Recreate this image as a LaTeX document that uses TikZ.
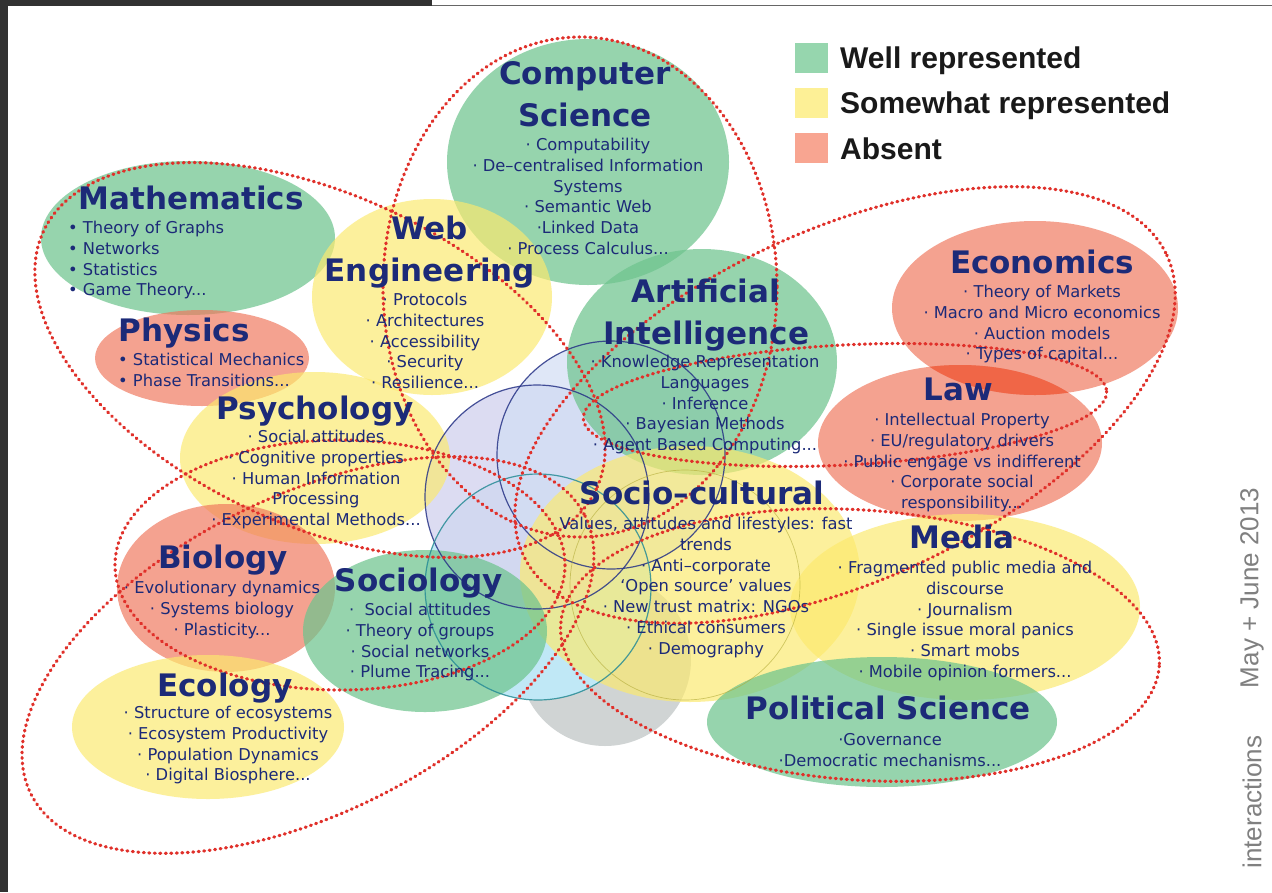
\documentclass[tikz,border=0pt]{standalone}
\usepackage{fontspec}
\setmainfont{DejaVu Sans}
\newfontfamily\legfont{Liberation Sans}
\definecolor{navy}{RGB}{28,42,120}
\definecolor{gbase}{RGB}{110,196,142}
\definecolor{ybase}{RGB}{252,234,110}
\definecolor{rbase}{RGB}{240,118,92}
\definecolor{lawecon}{RGB}{240,95,62}
\definecolor{dotred}{RGB}{224,48,42}
\definecolor{lgreen}{RGB}{150,214,174}
\definecolor{lyellow}{RGB}{253,240,150}
\definecolor{lred}{RGB}{248,165,145}
\definecolor{circA}{RGB}{214,214,240}
\definecolor{circB}{RGB}{210,222,244}
\definecolor{circC}{RGB}{192,232,246}
\definecolor{circgrey}{RGB}{208,212,212}
\definecolor{circline}{RGB}{40,52,135}
\definecolor{tealline}{RGB}{40,140,150}
\definecolor{frame}{RGB}{50,50,50}
\begin{document}
\begin{tikzpicture}[x=1pt,y=-1pt,
  title/.style={font=\fontsize{31}{42}\selectfont\bfseries, text=navy, inner sep=0pt, align=center, anchor=north},
  items/.style={font=\fontsize{16.3}{20.8}\selectfont, text=navy, inner sep=0pt, align=center, anchor=north},
  gblob/.style={fill=gbase, fill opacity=0.72},
  yblob/.style={fill=ybase, fill opacity=0.68},
  rblob/.style={fill=rbase, fill opacity=0.68},
  petal/.style={draw=dotred, line width=3.2pt, dash pattern=on 0.9pt off 4.6pt, line cap=round},
  legtext/.style={font=\legfont\fontsize{30}{30}\selectfont\bfseries, text=black!90, anchor=base west, inner sep=0pt},
  sidetext/.style={font=\legfont\fontsize{26}{26}\selectfont, text=black!50, rotate=90, inner sep=0pt}
]
\useasboundingbox (0,0) rectangle (1272,892);
\fill[white] (0,0) rectangle (1272,892);
% frame
\fill[frame] (0,0) rectangle (432,6);
\fill[frame] (0,0) rectangle (8,892);
\draw[black!60, line width=1pt] (432,5) -- (1272,5);

% central circles (fills)
\fill[circgrey] (605,660) circle [radius=86];
\fill[circC] (538,587) circle [radius=113];
\fill[circA, fill opacity=0.85] (537,497) circle [radius=112];
\fill[circB, fill opacity=0.7] (611,455) circle [radius=114];

% discipline blobs
\fill[gblob] (588,162) ellipse [x radius=141, y radius=123];
\fill[gblob] (188,238) ellipse [x radius=147, y radius=77];
\fill[yblob] (432,297) ellipse [x radius=120, y radius=98];
\fill[rblob] (202,358) ellipse [x radius=107, y radius=48];
\fill[gblob] (702,362) ellipse [x radius=135, y radius=113];
\fill[rblob] (1035,308) ellipse [x radius=143, y radius=87];
\fill[rblob] (960,443) ellipse [x radius=142, y radius=78];
\begin{scope}
  \clip (1035,308) ellipse [x radius=143, y radius=87];
  \fill[lawecon, fill opacity=0.8] (960,443) ellipse [x radius=142, y radius=78];
\end{scope}
\fill[yblob] (315,458) ellipse [x radius=135, y radius=86];
\fill[yblob] (690,574) ellipse [x radius=170, y radius=128];
\fill[yblob] (965,607) ellipse [x radius=175, y radius=93];
\fill[rblob] (226,588) ellipse [x radius=109, y radius=84];
\fill[gblob] (425,631) ellipse [x radius=122, y radius=81];
\fill[yblob] (208,727) ellipse [x radius=136, y radius=72];
\fill[gblob] (882,722) ellipse [x radius=175, y radius=65];

% central circle outlines
\draw[circline, line width=1.2pt, opacity=0.85] (537,497) circle [radius=112];
\draw[circline, line width=1.2pt, opacity=0.85] (611,455) circle [radius=114];
\draw[tealline, line width=1.2pt, opacity=0.85] (538,587) circle [radius=113];
\draw[olive!70, line width=0.7pt, opacity=0.6] (685,585) circle [radius=115];

% dotted petals
\draw[petal] (580,287) ellipse [x radius=197, y radius=250];
\draw[petal, rotate around={-25:(320,360)}] (320,360) ellipse [x radius=305, y radius=165];
\draw[petal, rotate around={25:(845,405)}] (845,405) ellipse [x radius=355, y radius=175];
\draw[petal, rotate around={3:(845,405)}] (845,405) ellipse [x radius=262, y radius=60];
\draw[petal, rotate around={-4:(860,645)}] (860,645) ellipse [x radius=300, y radius=135];
\draw[petal] (340,565) ellipse [x radius=225, y radius=125];
\draw[petal, rotate around={26.7:(308,655)}] (308,655) ellipse [x radius=310, y radius=158];

% titles
\node[title] (cst) at (585,61) {Computer\\Science};
\node[title] (matht) at (191,186) {Mathematics};
\node[title] (webt) at (430,216) {Web\\Engineering};
\node[title] (phyt) at (184,318) {Physics};
\node[title] (ait) at (706,279) {Artificial\\Intelligence};
\node[title] (econt) at (1042,250) {Economics};
\node[title] (lawt) at (958,378) {Law};
\node[title] (psyt) at (315,396) {Psychology};
\node[title] (soct) at (702,481) {Socio–cultural};
\node[title] (mediat) at (962,525) {Media};
\node[title] (biot) at (223,545) {Biology};
\node[title] (sociot) at (419,568) {Sociology};
\node[title] (ecot) at (225,673) {Ecology};
\node[title] (polt) at (888,696) {Political Science};

% item lists
\node[items] (csi) at (588,138) {· Computability\\· De–centralised Information\\Systems\\· Semantic Web\\·Linked Data\\· Process Calculus...};
\node[items, align=left, anchor=north west] (mathi) at (68,221) {• Theory of Graphs\\• Networks\\• Statistics\\• Game Theory...};
\node[items] (webi) at (425,293) {· Protocols\\· Architectures\\· Accessibility\\· Security\\· Resilience...};
\node[items, align=left, anchor=north west] (phyi) at (118,353) {• Statistical Mechanics\\• Phase Transitions...};
\node[items] (aii) at (705,355) {· Knowledge Representation\\Languages\\· Inference\\· Bayesian Methods\\· Agent Based Computing...};
\node[items] (econi) at (1042,285) {· Theory of Markets\\· Macro and Micro economics\\· Auction models\\· Types of capital...};
\node[items] (lawi) at (962,413) {· Intellectual Property\\· EU/regulatory drivers\\· Public engage vs indifferent\\· Corporate social\\responsibility...};
\node[items] (psyi) at (316,430) {· Social attitudes\\· Cognitive properties\\· Human Information\\Processing\\· Experimental Methods...};
\node[items] (soci) at (706,517) {Values, attitudes and lifestyles: fast\\trends\\· Anti–corporate\\‘Open source’ values\\· New trust matrix: NGOs\\· Ethical consumers\\· Demography};
\node[items] (mediai) at (965,561) {· Fragmented public media and\\discourse\\· Journalism\\· Single issue moral panics\\· Smart mobs\\· Mobile opinion formers...};
\node[items] (poli) at (890,733) {·Governance\\·Democratic mechanisms...};
\node[items] (bioi) at (222,581) {· Evolutionary dynamics\\· Systems biology\\· Plasticity...};
\node[items] (socioi) at (420,603) {·\ \ Social attitudes\\· Theory of groups\\· Social networks\\· Plume Tracing...};
\node[items] (ecoi) at (228,706) {· Structure of ecosystems\\· Ecosystem Productivity\\· Population Dynamics\\· Digital Biosphere...};

% legend
\fill[lgreen] (795,43) rectangle (828,73);
\fill[lyellow] (795,88) rectangle (828,118);
\fill[lred] (795,133) rectangle (828,163);
\node[legtext] (lg1) at (840,68) {Well represented};
\node[legtext] (lg2) at (840,113) {Somewhat represented};
\node[legtext] (lg3) at (840,159) {Absent};

% side text
\node[sidetext] (side1) at (1252,802) {interactions};
\node[sidetext] (side2) at (1252,588) {May + June 2013};
\end{tikzpicture}
\end{document}
